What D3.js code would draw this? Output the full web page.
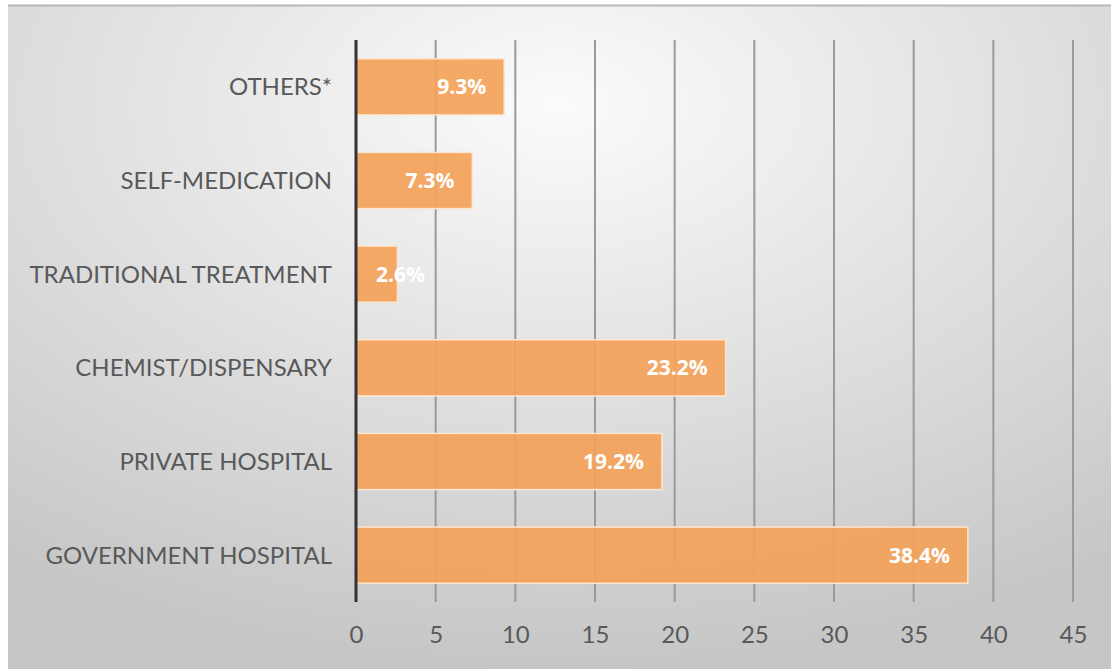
<!DOCTYPE html>
<html>
<head>
<meta charset="utf-8">
<script src="https://cdn.jsdelivr.net/npm/d3@7"></script>
<style>
  body { margin: 0; background: #fff; }
  svg { display: block; }
</style>
</head>
<body>
<svg></svg>
<script>
// data
var categories = ["OTHERS*", "SELF-MEDICATION", "TRADITIONAL TREATMENT",
                  "CHEMIST/DISPENSARY", "PRIVATE HOSPITAL", "GOVERNMENT HOSPITAL"];
var values = [9.3, 7.3, 2.6, 23.2, 19.2, 38.4];
var tickValues = [0, 5, 10, 15, 20, 25, 30, 35, 40, 45];

var width = 1111, height = 669;
var plotLeft = 356, plotRight = 1073, plotTop = 40, plotBottom = 602;

var svg = d3.select("svg")
    .attr("width", width)
    .attr("height", height);

var defs = svg.append("defs");
var grad = defs.append("radialGradient")
    .attr("id", "bg")
    .attr("cx", "50%").attr("cy", "15%")
    .attr("r", "85%");
grad.append("stop").attr("offset", "0%").attr("stop-color", "#fbfbfb");
grad.append("stop").attr("offset", "100%").attr("stop-color", "#c6c6c6");

svg.append("rect")
    .attr("x", 8).attr("y", 5)
    .attr("width", width - 8).attr("height", height - 5)
    .attr("fill", "url(#bg)");
svg.append("line")
    .attr("x1", 8).attr("x2", width)
    .attr("y1", 5.5).attr("y2", 5.5)
    .attr("stroke", "#b8b8b8").attr("stroke-width", 2);

var x = d3.scaleLinear().domain([0, 45]).range([plotLeft, plotRight]);
var y = d3.scaleBand().domain(categories).range([plotTop, plotBottom]).paddingInner(0.4).paddingOuter(0.2);

// vertical gridlines
svg.selectAll(".grid")
    .data(tickValues.slice(1))
    .enter()
    .append("line")
    .attr("x1", function(d) { return x(d); })
    .attr("x2", function(d) { return x(d); })
    .attr("y1", plotTop)
    .attr("y2", plotBottom)
    .attr("stroke", "#9a9a9a")
    .attr("stroke-width", 2);

// bars
svg.selectAll(".bar")
    .data(values)
    .enter()
    .append("rect")
    .attr("x", x(0))
    .attr("y", function(d, i) { return y(categories[i]); })
    .attr("width", function(d) { return x(d) - x(0); })
    .attr("height", y.bandwidth())
    .attr("fill", "#f4a25a")
    .attr("fill-opacity", 0.92)
    .attr("stroke", "#fde6cf")
    .attr("stroke-width", 1.5);

// value labels, inside end unless the bar is too short
var labels = svg.selectAll(".val")
    .data(values)
    .enter()
    .append("text")
    .attr("y", function(d, i) { return y(categories[i]) + y.bandwidth() / 2; })
    .attr("dy", "0.36em")
    .attr("fill", "#fff")
    .attr("font-family", "'Open Sans', sans-serif")
    .attr("font-weight", "bold")
    .attr("font-size", 21)
    .text(function(d) { return d.toFixed(1) + "%"; });
labels.each(function(d) {
    var w = this.getComputedTextLength();
    var end = Math.max(x(d) - 18, x(0) + 20 + w);
    d3.select(this).attr("x", end).attr("text-anchor", "end");
});

// axis line at zero
svg.append("line")
    .attr("x1", x(0)).attr("x2", x(0))
    .attr("y1", plotTop).attr("y2", plotBottom)
    .attr("stroke", "#333")
    .attr("stroke-width", 3);

// category labels
var yAxis = svg.append("g")
    .attr("transform", "translate(" + (x(0) - 24) + ",0)")
    .call(d3.axisLeft(y).tickSize(0).tickPadding(0));
yAxis.select(".domain").remove();
yAxis.selectAll("text")
    .attr("fill", "#595959")
    .attr("font-family", "Lato, sans-serif")
    .attr("font-size", 24)
    .attr("dy", "0.36em");

// x tick labels
var xAxis = svg.append("g")
    .attr("transform", "translate(0," + plotBottom + ")")
    .call(d3.axisBottom(x).tickValues(tickValues).tickSize(0).tickPadding(24));
xAxis.select(".domain").remove();
xAxis.selectAll("text")
    .attr("fill", "#595959")
    .attr("font-family", "Lato, sans-serif")
    .attr("font-size", 24);
</script>
</body>
</html>
